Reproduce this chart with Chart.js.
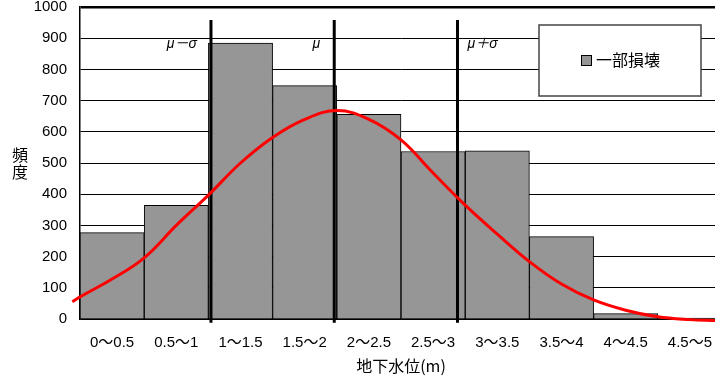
<!DOCTYPE html>
<html>
<head>
<meta charset="utf-8">
<script src="https://cdn.jsdelivr.net/npm/chart.js@4"></script>
<style>
  body { margin: 0; overflow: hidden; background: #fff; }
  #wrap { width: 730px; height: 380px; }
</style>
</head>
<body>
<div id="wrap"><canvas id="histChart"></canvas></div>
<script>
// 地下水位の階級
const categories = ['0～0.5', '0.5～1', '1～1.5', '1.5～2', '2～2.5', '2.5～3', '3～3.5', '3.5～4', '4～4.5', '4.5～5'];
// 一部損壊の頻度
const partialDamage = [277, 364, 884, 748, 656, 537, 539, 264, 17, 3];
// 正規分布の近似曲線 (地下水位 m, 頻度)
const curveX = [-0.06, 0, 0.25, 0.5, 0.75, 1.0, 1.25, 1.5, 1.75, 2.0, 2.25, 2.5, 2.75, 3.0, 3.25, 3.5, 3.75, 4.0, 4.25, 4.5, 4.75, 4.95];
const curveY = [55, 71, 128, 196, 300, 397, 500, 582, 640, 668, 640, 574, 468, 365, 272, 184, 112, 61, 28, 7, -2, -5];
// μ, μ±σ
const mu = 1.98;
const sigma = 0.96;
const markerLabels = ['μ－σ', 'μ', 'μ＋σ'];
const markerX = [mu - sigma, mu, mu + sigma];
const markerSpan = [-12, 958];
const yTicks = { min: 0, max: 1000, step: 100 };

const jpFont = '"Liberation Sans", "Noto Sans CJK JP", sans-serif';

const curveData = curveX.map((x, i) => ({ x: x, y: curveY[i] }));
const markerSets = markerX.map((x, i) => ({
    type: 'line',
    label: markerLabels[i],
    data: markerSpan.map(y => ({ x: x, y: y })),
    xAxisID: 'xl',
    borderColor: '#000',
    borderWidth: 3,
    pointRadius: 0,
    clip: false,
    order: 1
}));

// 凡例枠・μラベル・縦書きの軸タイトル
const decorations = {
    id: 'decorations',
    afterDraw(chart) {
        const ctx = chart.ctx;
        const area = chart.chartArea;
        const xl = chart.scales.xl;
        const y = chart.scales.y;

        // μ labels
        ctx.save();
        ctx.fillStyle = '#000';
        ctx.font = 'italic 14px ' + jpFont;
        ctx.textBaseline = 'middle';
        const ly = y.getPixelForValue(880);
        markerX.forEach((mx, i) => {
            const px = xl.getPixelForValue(mx);
            if (i < 2) {
                ctx.textAlign = 'right';
                ctx.fillText(markerLabels[i], px - 14, ly);
            } else {
                ctx.textAlign = 'left';
                ctx.fillText(markerLabels[i], px + 10, ly);
            }
        });
        ctx.restore();

        // legend box
        const bx = area.left + 459, by = area.top + 18, bw = 162, bh = 71;
        ctx.save();
        ctx.fillStyle = '#fff';
        ctx.fillRect(bx, by, bw, bh);
        ctx.strokeStyle = '#444';
        ctx.lineWidth = 1.5;
        ctx.strokeRect(bx, by, bw, bh);
        const ds = chart.data.datasets[0];
        ctx.fillStyle = ds.backgroundColor;
        ctx.fillRect(bx + 42, by + 30, 10, 10);
        ctx.strokeStyle = '#000';
        ctx.lineWidth = 1;
        ctx.strokeRect(bx + 42.5, by + 30.5, 10, 10);
        ctx.fillStyle = '#000';
        ctx.font = '16px "Noto Sans CJK JP", sans-serif';
        ctx.textAlign = 'left';
        ctx.textBaseline = 'middle';
        ctx.fillText(ds.label, bx + 57, by + 35);
        ctx.restore();

        // y axis title, upright characters
        ctx.save();
        ctx.fillStyle = '#000';
        ctx.font = '16px "Noto Sans CJK JP", sans-serif';
        ctx.textAlign = 'center';
        ctx.textBaseline = 'middle';
        const cy = (area.top + area.bottom) / 2;
        ctx.fillText('頻', 20, cy - 8);
        ctx.fillText('度', 20, cy + 9);
        ctx.restore();
    }
};

const ctx = document.getElementById('histChart').getContext('2d');
const histChart = new Chart(ctx, {
    data: {
        labels: categories,
        datasets: [
            {
                type: 'bar',
                label: '一部損壊',
                data: partialDamage,
                backgroundColor: '#969696',
                borderColor: '#000',
                borderWidth: 1,
                grouped: false,
                barPercentage: 1.0,
                categoryPercentage: 1.0,
                order: 2
            },
            ...markerSets,
            {
                type: 'line',
                label: '正規分布',
                data: curveData,
                xAxisID: 'xl',
                borderColor: '#ff0000',
                borderWidth: 3,
                pointRadius: 0,
                tension: 0.4,
                clip: false,
                order: 0
            }
        ]
    },
    options: {
        responsive: true,
        maintainAspectRatio: false,
        animation: false,
        layout: {
            padding: { top: 7, right: 8, bottom: 0, left: 0 }
        },
        datasets: {
            bar: { barPercentage: 1.0, categoryPercentage: 1.0 }
        },
        plugins: {
            legend: { display: false },
            tooltip: { enabled: false }
        },
        scales: {
            x: {
                type: 'category',
                offset: true,
                grid: { display: false },
                border: { display: true, color: '#000', width: 1.5 },
                ticks: {
                    color: '#000',
                    font: { family: jpFont, size: 15 },
                    padding: 7,
                    maxRotation: 0,
                    autoSkip: false
                },
                title: {
                    display: true,
                    text: '地下水位(m)',
                    color: '#000',
                    font: { family: '"Noto Sans CJK JP", sans-serif', size: 16 },
                    padding: { top: 0, bottom: 4 }
                },
                afterFit(s) { s.height = 61; s.paddingLeft = 0; s.paddingRight = 0; }
            },
            xl: {
                type: 'linear',
                display: false,
                min: 0,
                max: 5,
                offset: false
            },
            y: {
                min: yTicks.min,
                max: yTicks.max,
                grid: {
                    color: '#000',
                    lineWidth: c => (c.tick && c.tick.value === yTicks.max ? 2.5 : 1),
                    drawTicks: false
                },
                border: { display: true, color: '#000', width: 1.5 },
                ticks: {
                    stepSize: yTicks.step,
                    color: '#000',
                    font: { family: '"Liberation Sans", sans-serif', size: 15 },
                    padding: 13,
                    callback: v => String(v)
                },
                afterFit(s) { s.width = 80; s.paddingTop = 0; s.paddingBottom = 0; }
            }
        }
    },
    plugins: [decorations]
});
</script>
</body>
</html>
